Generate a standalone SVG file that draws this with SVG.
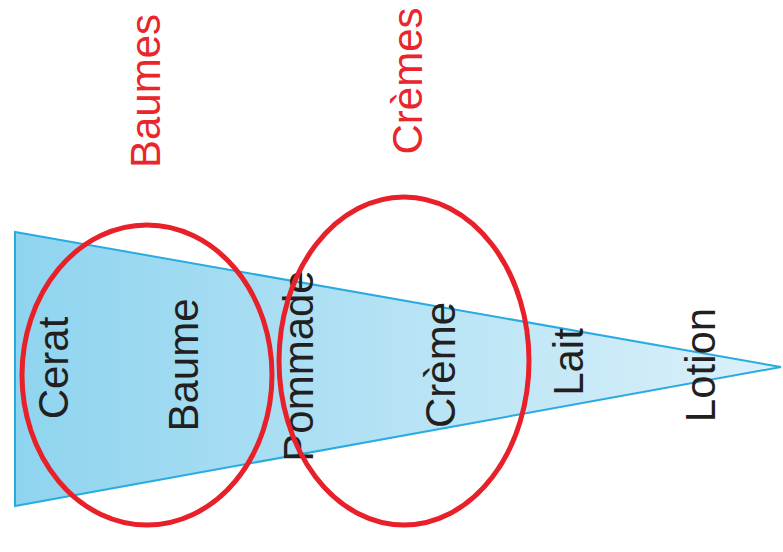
<svg xmlns="http://www.w3.org/2000/svg" width="783" height="552" viewBox="0 0 783 552">
<style>
.t{font-family:"Liberation Sans",Arial,sans-serif;font-size:42px;fill:#231f20;text-anchor:middle}
.r{fill:#e8262c}
.e{fill:none;stroke:#e8202a;stroke-width:5}
</style>
<defs>
<linearGradient id="g" x1="15" y1="0" x2="783" y2="0" gradientUnits="userSpaceOnUse">
<stop offset="0" stop-color="#8fd4ef"/>
<stop offset="1" stop-color="#dcf1fa"/>
</linearGradient>
</defs>
<g id="wedge"><polygon points="15,232 15,506 781,367" fill="url(#g)" stroke="#29abe2" stroke-width="2"/></g>
<g id="labels">
<text id="cerat" class="t" transform="translate(68,368) rotate(-90)">Cerat</text>
<text id="baume" class="t" transform="translate(198,365) rotate(-90)">Baume</text>
<text id="pommade" class="t" transform="translate(313,366) rotate(-90)">Pommade</text>
<text id="creme" class="t" transform="translate(455,365) rotate(-90)">Crème</text>
<text id="lait" class="t" transform="translate(583,362) rotate(-90)">Lait</text>
<text id="lotion" class="t" transform="translate(715,365) rotate(-90)">Lotion</text>
<text id="baumes" class="t r" transform="translate(160,91) rotate(-90)">Baumes</text>
<text id="cremes" class="t r" transform="translate(422,81) rotate(-90)">Crèmes</text>
</g>
<g id="ellipses">
<ellipse id="ell1" class="e" cx="147" cy="375" rx="125" ry="150"/>
<ellipse id="ell2" class="e" cx="404" cy="361" rx="125" ry="164"/>
</g>
</svg>
